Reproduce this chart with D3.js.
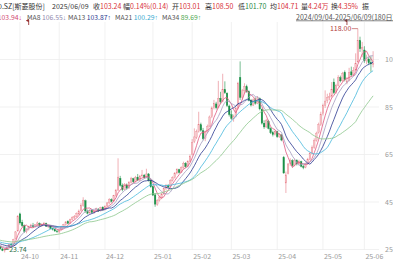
<!DOCTYPE html>
<html>
<head>
<meta charset="utf-8">
<script src="https://cdn.jsdelivr.net/npm/d3@7/dist/d3.min.js"></script>
<style>
  body { margin: 0; background: #fff; overflow: hidden; }
  svg { display: block; font-family: "Noto Sans CJK SC", "Noto Sans", sans-serif; }
  .arrow { font-family: "Liberation Sans", sans-serif; }
</style>
</head>
<body>
<svg id="chart" width="393" height="267"></svg>
<script>
// 301550.SZ 斯菱股份, daily candles 2024/09/04 - 2025/06/09 (180 days)
// each row: [open, high, low, close]
var candles = [
  [28.5,28.9,27.6,27.9],[27.9,28.4,27.3,28.1],[28.0,28.2,27.0,27.2],[27.0,27.4,26.3,26.6],
  [26.7,27.3,26.4,27.0],[27.0,27.5,26.5,26.8],[26.8,27.0,25.9,26.1],[26.0,26.6,25.5,26.3],
  [26.2,26.5,25.0,25.3],[25.2,25.6,24.3,24.6],[24.5,25.4,23.74,25.1],[25.2,26.3,25.0,26.0],
  [26.1,27.4,25.8,27.1],[27.2,27.8,26.6,27.0],[27.3,29.5,27.1,29.2],[29.5,32.8,29.2,32.4],
  [32.8,39.5,32.5,38.9],[40.0,40.5,35.5,36.2],[36.5,37.5,34.5,35.0],[35.0,35.5,32.0,32.6],
  [32.5,34.0,31.8,33.6],[33.5,35.0,33.0,34.6],[34.6,35.8,34.0,35.3],[35.2,36.2,34.3,34.6],
  [34.6,35.6,34.2,35.4],[35.5,36.8,35.0,36.2],[36.0,36.4,34.8,35.2],[35.2,36.0,34.5,35.7],
  [35.8,36.6,35.2,36.0],[36.0,36.3,34.5,34.8],[34.8,35.4,34.0,35.0],[34.9,35.2,33.6,33.9],
  [33.8,34.3,33.0,33.5],[33.4,33.8,32.4,32.8],[32.8,33.3,32.0,32.5],[32.4,33.5,31.8,33.2],
  [33.3,34.8,33.0,34.5],[34.6,35.8,34.2,35.5],[35.4,37.0,35.0,36.6],[36.8,37.3,35.6,36.0],
  [36.0,38.0,35.8,37.6],[37.6,39.0,37.2,38.5],[38.5,39.5,37.8,38.9],[39.0,40.6,38.6,40.1],
  [40.0,41.8,39.5,41.2],[41.3,44.5,41.0,43.6],[43.5,47.0,43.0,45.8],[45.5,46.0,40.5,41.2],
  [41.0,41.8,39.8,40.3],[40.4,41.9,40.0,41.5],[41.5,42.0,40.2,40.6],[40.6,41.6,40.0,41.3],
  [41.4,42.6,41.0,42.2],[42.0,42.4,40.8,41.2],[41.3,43.0,41.0,42.7],[42.8,43.2,41.3,41.6],
  [41.7,43.6,41.5,43.2],[43.3,45.0,43.0,44.6],[44.6,46.6,44.2,46.1],[46.0,46.5,44.8,45.3],
  [45.4,48.0,45.0,47.6],[47.6,50.5,47.2,49.8],[50.0,63.4,49.8,55.5],[55.0,56.0,51.5,52.0],
  [52.0,52.8,49.5,50.2],[50.4,53.0,50.0,52.4],[52.2,52.8,50.2,50.8],[50.9,53.8,50.5,53.3],
  [53.2,55.6,52.8,54.8],[54.8,55.2,53.0,53.5],[53.6,56.0,53.2,55.4],[55.4,56.8,53.8,54.2],
  [54.2,56.4,53.9,55.9],[56.0,58.5,55.5,56.4],[56.3,56.8,54.8,55.2],[55.3,59.0,55.0,56.8],
  [56.8,57.2,53.6,54.0],[54.0,54.6,51.0,51.4],[51.4,52.0,47.5,47.9],[48.0,48.8,43.0,44.1],
  [44.0,46.2,43.4,45.7],[45.8,47.6,45.2,47.1],[47.0,48.8,46.2,48.4],[48.4,51.0,48.0,50.6],
  [50.6,52.6,50.0,52.1],[52.0,52.5,50.8,51.3],[51.4,54.6,51.0,54.2],[54.2,55.8,53.6,55.2],
  [55.3,57.6,54.9,57.1],[57.2,59.2,56.6,58.6],[58.6,59.0,57.0,57.4],[57.5,60.0,57.2,59.6],
  [59.6,62.0,59.0,61.3],[61.3,61.8,59.4,59.9],[60.0,62.6,59.6,62.1],[62.2,65.0,61.8,64.3],
  [65.0,71.5,64.6,70.2],[70.5,76.0,69.8,72.4],[72.3,75.5,71.5,74.6],[74.8,83.0,74.2,77.6],
  [77.5,78.4,74.6,75.2],[75.0,76.2,71.0,71.6],[71.8,75.0,70.6,74.4],[74.5,77.6,74.0,76.9],
  [77.0,81.4,76.6,80.8],[80.9,85.2,80.3,84.6],[84.8,88.0,84.0,86.4],[86.3,87.2,84.0,84.7],
  [84.8,96.0,84.4,88.6],[88.7,91.4,86.4,87.2],[87.4,99.0,87.0,92.5],[92.4,95.8,90.5,91.0],
  [90.8,91.2,85.0,85.6],[85.4,86.0,81.0,81.8],[81.8,83.6,79.6,80.2],[80.0,81.8,78.8,80.9],
  [81.0,85.0,80.6,84.3],[84.5,95.6,84.0,95.0],[97.5,104.2,88.0,89.0],[89.0,92.6,88.0,91.8],
  [91.8,95.0,90.6,93.6],[93.5,94.4,91.0,91.6],[91.5,92.0,87.4,87.8],[87.8,88.4,85.2,85.8],
  [85.8,88.6,85.4,88.0],[88.0,89.0,86.0,86.6],[86.6,89.6,86.2,88.8],[88.6,89.0,83.6,84.2],
  [84.0,84.4,77.6,78.2],[78.2,79.4,75.8,76.6],[76.6,80.0,76.2,79.2],[79.0,79.6,75.6,76.0],
  [76.0,76.5,73.6,74.2],[74.2,75.0,72.6,73.4],[73.4,75.2,73.0,74.6],[74.6,75.0,72.0,72.5],
  [72.4,74.0,72.0,73.4],[73.2,73.6,70.6,71.1],[63.8,64.4,56.9,57.2],[53.0,57.8,48.8,56.4],
  [57.0,61.4,56.6,61.0],[61.2,63.4,60.2,62.4],[62.4,63.0,59.8,60.4],[60.5,63.2,60.0,62.6],
  [62.5,63.0,60.4,61.0],[61.0,62.8,60.6,62.2],[62.0,62.4,59.6,60.0],[60.0,60.8,58.8,59.5],
  [59.6,61.6,59.2,61.0],[61.0,63.6,60.6,63.0],[63.0,66.0,62.6,65.5],[65.6,68.8,65.0,68.0],
  [68.0,71.8,67.4,71.0],[71.0,74.6,70.4,74.0],[74.2,78.4,73.8,77.5],[77.6,83.0,77.0,82.0],
  [82.2,86.4,81.4,85.5],[85.6,92.0,84.6,87.5],[87.6,90.6,86.6,89.0],[89.0,91.0,87.8,89.5],
  [89.6,95.5,89.0,92.5],[95.5,97.0,90.4,91.0],[91.0,94.8,90.6,94.0],[94.0,98.4,93.6,97.3],
  [97.4,98.2,95.4,96.0],[96.0,99.8,95.6,99.0],[99.6,100.4,95.8,96.5],[95.2,97.6,94.6,96.0],
  [96.2,101.5,95.8,99.5],[99.8,102.0,97.8,98.5],[98.6,101.8,98.0,100.5],[100.6,107.6,100.2,103.4],
  [104.0,118.0,103.6,113.0],[113.0,114.6,108.2,109.5],[109.4,112.4,106.0,110.2],[109.0,110.6,103.6,104.5],
  [104.4,107.0,103.0,105.3],[105.2,106.0,102.6,103.6],[103.6,106.4,99.8,103.1],[103.01,108.5,101.7,103.24]
]

// closes before 2024/09/04, only used to warm up the moving averages
var priorCloses = [31.2,31.5,31.0,30.6,30.9,31.4,31.8,31.2,30.8,30.5,30.9,30.4,30.0,29.6,29.9,30.3,30.1,
                   29.7,29.4,29.8,30.2,29.9,29.5,29.2,29.6,29.3,29.0,28.7,29.1,28.9,28.6,28.8,28.4]

var monthIdx = [17, 35, 56, 78, 96, 114, 135, 156, 175]
var monthLabels = ["24-10","24-11","24-12","25-01","25-02","25-03","25-04","25-05","25-06"]
var yTicks = [25, 45, 65, 85, 105]

var maPeriods = [5, 8, 13, 21, 34]
var maColors = ["#e0577f", "#a49cc0", "#2b3990", "#45b8dc", "#8cc68c"]
var maTextColors = ["#d2476f", "#8f89ad", "#2b3990", "#35a9cf", "#4fa84f"]
var maValues = ["103.94", "106.55", "103.87", "100.29", "89.69"]
var maArrows = ["↓", "↓", "↑", "↑", "↑"]
var markIdx = [21, 167]

var upFill = "#f6c3c8", upLine = "#e67b85", downColor = "#1b9048"

var width = 393
var height = 267

var svg = d3.select("#chart")

var x = d3.scaleLinear().domain([0, 179]).range([-17.1, 373.1])
var y = d3.scaleLinear().domain([25, 105]).range([249.5, 59.5])

// grid
var grid = svg.append("g").attr("stroke", "#ededed").attr("stroke-width", 0.8)
grid.selectAll("line.h").data(yTicks).enter().append("line")
    .attr("x1", 0).attr("x2", 379)
    .attr("y1", d => y(d)).attr("y2", d => y(d))
grid.selectAll("line.v").data(monthIdx).enter().append("line")
    .attr("x1", d => x(d)).attr("x2", d => x(d))
    .attr("y1", 22).attr("y2", 250)

// axis labels
svg.append("g").selectAll("text").data(yTicks).enter().append("text")
    .attr("x", 385).attr("y", d => y(d) + 2.5)
    .attr("font-size", 7).attr("fill", "#9a9a9a")
    .text(d => d)
svg.append("g").selectAll("text").data(monthIdx).enter().append("text")
    .attr("x", d => x(d) + 1).attr("y", 259)
    .attr("font-size", 7).attr("fill", "#9a9a9a")
    .text((d, i) => monthLabels[i])

// candles
var cg = svg.append("g")
var isUp = d => d[3] >= d[0]
cg.selectAll("line").data(candles).enter().append("line")
    .attr("x1", (d, i) => x(i)).attr("x2", (d, i) => x(i))
    .attr("y1", d => y(d[1])).attr("y2", d => y(d[2]))
    .attr("stroke", d => isUp(d) ? upLine : downColor)
    .attr("stroke-width", 0.6)
var bw = 1.6
cg.selectAll("rect").data(candles).enter().append("rect")
    .attr("x", (d, i) => x(i) - bw / 2)
    .attr("y", d => y(Math.max(d[0], d[3])))
    .attr("width", bw)
    .attr("height", d => Math.max(0.6, Math.abs(y(d[0]) - y(d[3]))))
    .attr("fill", d => isUp(d) ? upFill : downColor)
    .attr("stroke", d => isUp(d) ? upLine : downColor)
    .attr("stroke-width", 0.3)

// moving averages
var allCloses = priorCloses.concat(candles.map(d => d[3]))
var off = priorCloses.length
var line = d3.line().x((d, i) => x(i)).y(d => y(d))
maPeriods.forEach(function(n, k) {
  var ma = candles.map((d, i) => d3.mean(allCloses.slice(off + i - n + 1, off + i + 1)))
  svg.append("path").datum(ma)
      .attr("d", line)
      .attr("fill", "none")
      .attr("stroke", maColors[k])
      .attr("stroke-width", 0.8)
})

// high / low markers
var hi = d3.maxIndex(candles, d => d[1])
var lo = d3.minIndex(candles, d => d[2])
svg.append("line").attr("x1", x(hi) - 6).attr("x2", x(hi)).attr("y1", y(candles[hi][1])).attr("y2", y(candles[hi][1]))
    .attr("stroke", "#b23a3a").attr("stroke-width", 0.6)
svg.append("text").attr("x", x(hi) - 6.5).attr("y", y(candles[hi][1]) + 2.5)
    .attr("text-anchor", "end").attr("font-size", 7).attr("fill", "#b23a3a")
    .text(candles[hi][1].toFixed(2))
svg.append("line").attr("x1", x(lo)).attr("x2", x(lo) + 4).attr("y1", y(candles[lo][2]) - 3).attr("y2", y(candles[lo][2]) - 3)
    .attr("stroke", "#2c6e47").attr("stroke-width", 0.6)
svg.append("text").attr("x", x(lo) + 4.5).attr("y", y(candles[lo][2]) - 0.6)
    .attr("font-size", 7).attr("fill", "#2c6e47")
    .text(candles[lo][2].toFixed(2))

svg.append("g").selectAll("path").data(markIdx).enter().append("path")
    .attr("d", d => "M" + x(d) + ",25 L" + x(d) + ",19.5 L" + (x(d) - 2.2) + ",20.6 L" + x(d) + ",21.6")
    .attr("fill", "#8e1f1f").attr("stroke", "#8e1f1f").attr("stroke-width", 0.8)

// header, row 1
var dark = "#333", red = "#d8323a", green = "#1f8a45"
var row1 = [
  {x: 93, parts: [["收", dark], ["103.24", red]]},
  {x: 123, parts: [["幅", dark], ["0.14%(0.14)", red]]},
  {x: 172, parts: [["开", dark], ["103.01", red]]},
  {x: 205, parts: [["高", dark], ["108.50", red]]},
  {x: 238, parts: [["低", dark], ["101.70", green]]},
  {x: 270, parts: [["均", dark], ["104.71", red]]},
  {x: 301, parts: [["量", dark], ["4.24万", red]]},
  {x: 331, parts: [["换", dark], ["4.35%", red]]},
  {x: 362, parts: [["振", dark]]}
]
svg.append("text").attr("x", 45).attr("y", 8.5).attr("text-anchor", "end")
    .attr("font-size", 7).attr("fill", dark).text("301550.SZ[斯菱股份]")
svg.append("text").attr("x", 52).attr("y", 8.5)
    .attr("font-size", 7).attr("fill", dark).text("2025/06/09")
row1.forEach(function(g) {
  var t = svg.append("text").attr("x", g.x).attr("y", 8.5).attr("font-size", 7)
  g.parts.forEach(p => t.append("tspan").attr("fill", p[1]).text(p[0]))
})

// header, row 2: moving average values
var maLabelX = [null, 27, 68, 115, 162]
function maText(t, k) {
  t.append("tspan").attr("fill", "#555").text("MA" + maPeriods[k] + " ")
  t.append("tspan").attr("fill", maTextColors[k]).text(maValues[k])
  t.append("tspan").attr("class", "arrow").attr("fill", maTextColors[k]).text(maArrows[k])
}
maText(svg.append("text").attr("x", 22).attr("y", 19.5).attr("text-anchor", "end").attr("font-size", 6.8), 0)
for (var k = 1; k < 5; k++) {
  maText(svg.append("text").attr("x", maLabelX[k]).attr("y", 19.5).attr("font-size", 6.8), k)
}
svg.append("text").attr("x", 296).attr("y", 19.5).attr("font-size", 7).attr("fill", "#555")
    .attr("text-decoration", "underline")
    .text("2024/09/04-2025/06/09(180日)")
</script>
</body>
</html>
